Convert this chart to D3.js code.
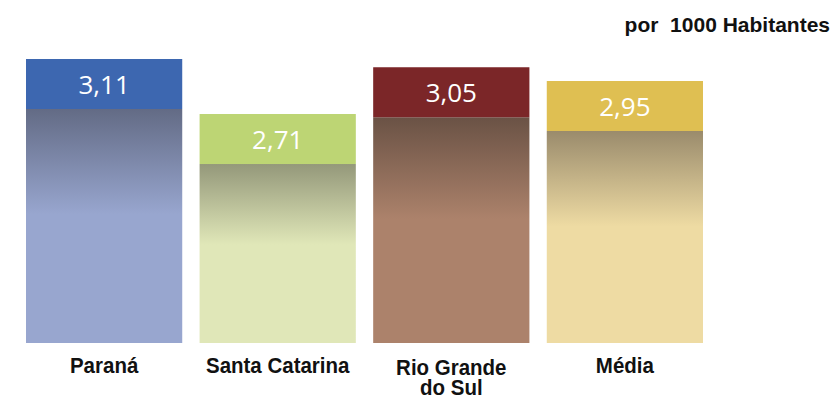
<!DOCTYPE html>
<html>
<head>
<meta charset="utf-8">
<script src="https://cdn.jsdelivr.net/npm/d3@7"></script>
<style>
  body { margin: 0; background: #fff; }
  svg { display: block; }
</style>
</head>
<body>
<svg id="chart" width="836" height="399"></svg>
<script>
// chart data
const categories = ['Paraná', 'Santa Catarina', 'Rio Grande do Sul', 'Média'];
const labelLines = [['Paraná'], ['Santa Catarina'], ['Rio Grande', 'do Sul'], ['Média']];
const labelBaselines = [372.5, 372.5, 374.5, 372.5];
const values = [3.11, 2.71, 3.05, 2.95];
const valueLabels = ['3,11', '2,71', '3,05', '2,95'];

// colours: header band, gradient top, gradient bottom
const bandColors = ['#3d67b0', '#bdd574', '#7b2628', '#dfbf52'];
const gradTop = ['#636b85', '#94987a', '#6a5245', '#9a8b6c'];
const gradBottom = ['#98a6cf', '#e0e7b8', '#ac826b', '#eedba3'];

const svg = d3.select('#chart');
const baseY = 343;
const headH = 50;
const stretch = 1.12;

const x = d3.scaleBand()
    .domain(categories)
    .range([26, 703])
    .paddingInner(0.1);

// axis does not start at zero in the original
const y = d3.scaleLinear()
    .domain([1.045, 3.11])
    .range([baseY, 59]);

const defs = svg.append('defs');
categories.forEach((c, i) => {
    const g = defs.append('linearGradient')
        .attr('id', 'grad' + i)
        .attr('x1', 0).attr('y1', 0).attr('x2', 0).attr('y2', 1);
    g.append('stop').attr('offset', '0%').attr('stop-color', gradTop[i]);
    g.append('stop').attr('offset', '45%').attr('stop-color', gradBottom[i]);
    g.append('stop').attr('offset', '100%').attr('stop-color', gradBottom[i]);
});

const bars = svg.selectAll('.bar')
    .data(categories)
    .enter()
    .append('g')
    .attr('class', 'bar');

// lower gradient body
bars.append('rect')
    .attr('x', d => x(d))
    .attr('y', (d, i) => y(values[i]) + headH)
    .attr('width', x.bandwidth())
    .attr('height', (d, i) => baseY - y(values[i]) - headH)
    .attr('fill', (d, i) => `url(#grad${i})`);

// header band
bars.append('rect')
    .attr('x', d => x(d))
    .attr('y', (d, i) => y(values[i]))
    .attr('width', x.bandwidth())
    .attr('height', headH)
    .attr('fill', (d, i) => bandColors[i]);

bars.append('text')
    .attr('x', d => x(d) + x.bandwidth() / 2)
    .attr('y', (d, i) => y(values[i]) + headH / 2 + 10)
    .attr('text-anchor', 'middle')
    .attr('font-family', '"Open Sans", sans-serif')
    .attr('font-size', 26)
    .attr('fill', '#fff')
    .text((d, i) => valueLabels[i]);

// category labels (slightly tall, narrow lettering in the original)
bars.append('text')
    .attr('text-anchor', 'middle')
    .attr('font-family', '"Liberation Sans", Arial, sans-serif')
    .attr('font-weight', 'bold')
    .attr('font-size', 20.5)
    .attr('fill', '#111')
    .attr('transform', (d, i) => `translate(${x(d) + x.bandwidth() / 2},${labelBaselines[i]}) scale(1,${stretch})`)
    .each(function (d, i) {
        const t = d3.select(this);
        labelLines[i].forEach((line, j) => {
            t.append('tspan')
                .attr('x', 0)
                .attr('y', j * 20.5 / stretch)
                .text(line);
        });
    });

svg.append('text')
    .attr('x', 830)
    .attr('y', 32)
    .attr('text-anchor', 'end')
    .attr('font-family', '"Liberation Sans", Arial, sans-serif')
    .attr('font-weight', 'bold')
    .attr('font-size', 21)
    .attr('fill', '#111')
    .attr('xml:space', 'preserve')
    .text('por  1000 Habitantes');
</script>
</body>
</html>
